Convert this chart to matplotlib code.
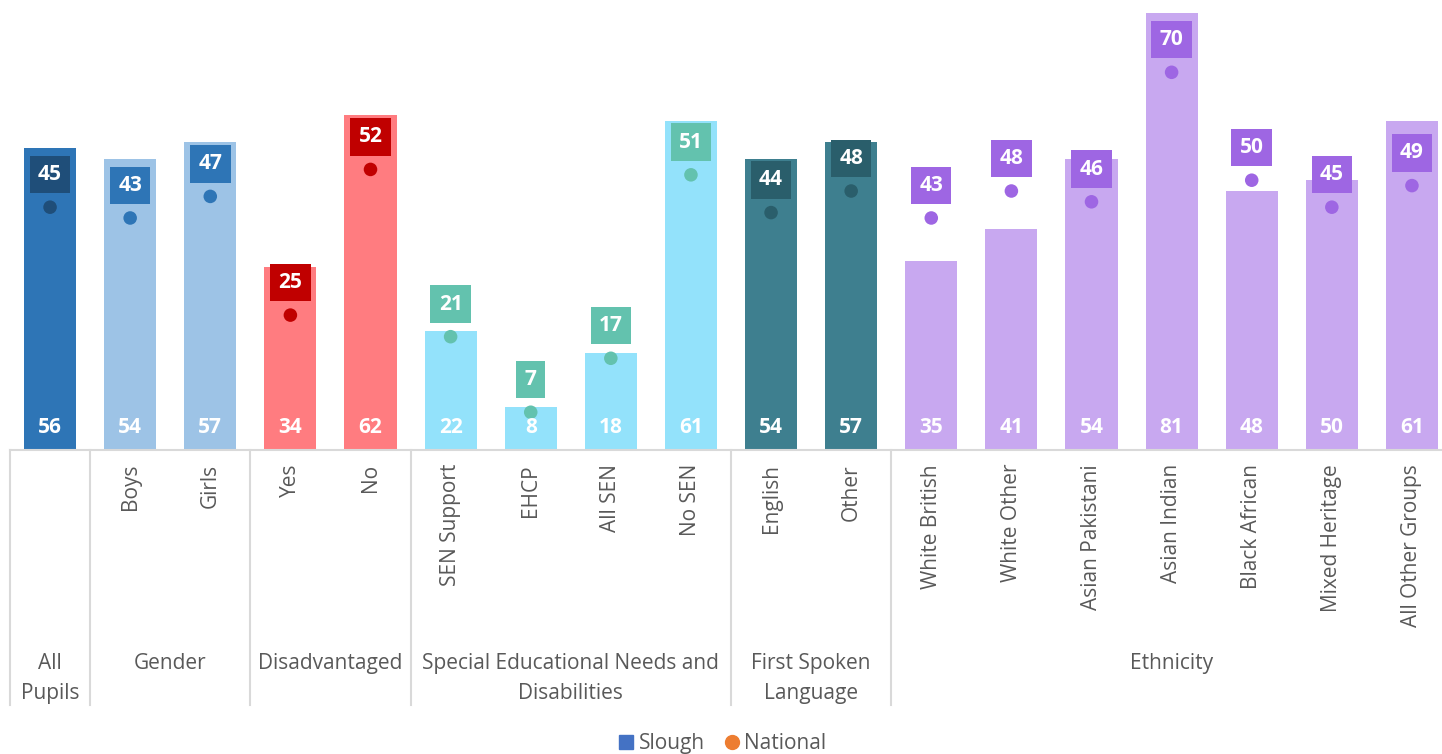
import matplotlib.pyplot as plt
import matplotlib.transforms as mtransforms
from matplotlib.lines import Line2D

plt.rcParams['font.family'] = ['Open Sans', 'DejaVu Sans']

# data
categories = ["All Pupils", "Boys", "Girls", "Yes", "No", "SEN Support", "EHCP", "All SEN",
              "No SEN", "English", "Other", "White British", "White Other", "Asian Pakistani",
              "Asian Indian", "Black African", "Mixed Heritage", "All Other Groups"]
slough = [56, 54, 57, 34, 62, 22, 8, 18, 61, 54, 57, 35, 41, 54, 81, 48, 50, 61]
national = [45, 43, 47, 25, 52, 21, 7, 17, 51, 44, 48, 43, 48, 46, 70, 50, 45, 49]
groups = ["All\nPupils", "Gender", "Disadvantaged", "Special Educational Needs and\nDisabilities",
          "First Spoken\nLanguage", "Ethnicity"]
group_sizes = [1, 2, 2, 4, 2, 7]

# colours per group (bar, dot/label)
bar_cols = ["#2E75B6", "#9DC3E6", "#FF7C80", "#93E2FB", "#3E7F8F", "#C8A8F0"]
dot_cols = ["#1F4E79", "#2E75B6", "#C00000", "#63C2AE", "#2A5E6B", "#9E66E3"]

bar_c = []
dot_c = []
for i, n in enumerate(group_sizes):
    bar_c += [bar_cols[i]] * n
    dot_c += [dot_cols[i]] * n

x = list(range(len(categories)))
grey = "#595959"
line_grey = "#D9D9D9"
fs = 15

fig = plt.figure(figsize=(14.42, 7.54), dpi=100)
ax = fig.add_axes([10 / 1442, 304 / 754, 1442 / 1442, 450 / 754])
ax.set_xlim(-0.5, 17.5)
ax.set_ylim(0, 83.4)

ax.bar(x, slough, width=0.65, color=bar_c, zorder=2)
ax.scatter(x, national, s=95, color=dot_c, zorder=3, linewidths=0)

for xi, v, c in zip(x, national, dot_c):
    ax.annotate(str(v), (xi, v), xytext=(0, 23.5), textcoords="offset points",
                ha="center", va="center", color="white", fontsize=fs, fontweight="bold",
                bbox=dict(boxstyle="square,pad=0.4", fc=c, ec="none"), zorder=4)

for xi, v in zip(x, slough):
    ax.annotate(str(v), (xi, 0), xytext=(0, 16.5), textcoords="offset points",
                ha="center", va="center", color="white", fontsize=fs, fontweight="bold", zorder=4)

for s in ["top", "left", "right"]:
    ax.spines[s].set_visible(False)
ax.spines["bottom"].set_color(line_grey)
ax.spines["bottom"].set_linewidth(1.5)
ax.set_yticks([])

ax.set_xticks(x[1:])
ax.set_xticklabels(categories[1:], rotation=90, va="top", ha="center", color=grey, fontsize=fs)
ax.tick_params(axis="x", length=0, pad=10)

trans = mtransforms.blended_transform_factory(ax.transData, ax.transAxes)
edges = [-0.5]
for n in group_sizes:
    edges.append(edges[-1] + n)
for e in edges:
    ax.plot([e, e], [0, -0.567], transform=trans, color=line_grey, lw=1.5, clip_on=False)

for i, g in enumerate(groups):
    c = (edges[i] + edges[i + 1]) / 2
    ax.text(c, -0.452, g, transform=trans, ha="center", va="top", color=grey,
            fontsize=fs, linespacing=1.55, multialignment="center")

handles = [Line2D([], [], marker="s", color="#4472C4", ls="none", markersize=10),
           Line2D([], [], marker="o", color="#ED7D31", ls="none", markersize=10)]
fig.legend(handles, ["Slough", "National"], loc="lower center", bbox_to_anchor=(0.5, -0.025),
           ncol=2, frameon=False, fontsize=fs, labelcolor=grey, handletextpad=0.1,
           columnspacing=0.8, handlelength=1.0)

fig.savefig("out.png", dpi=100)
